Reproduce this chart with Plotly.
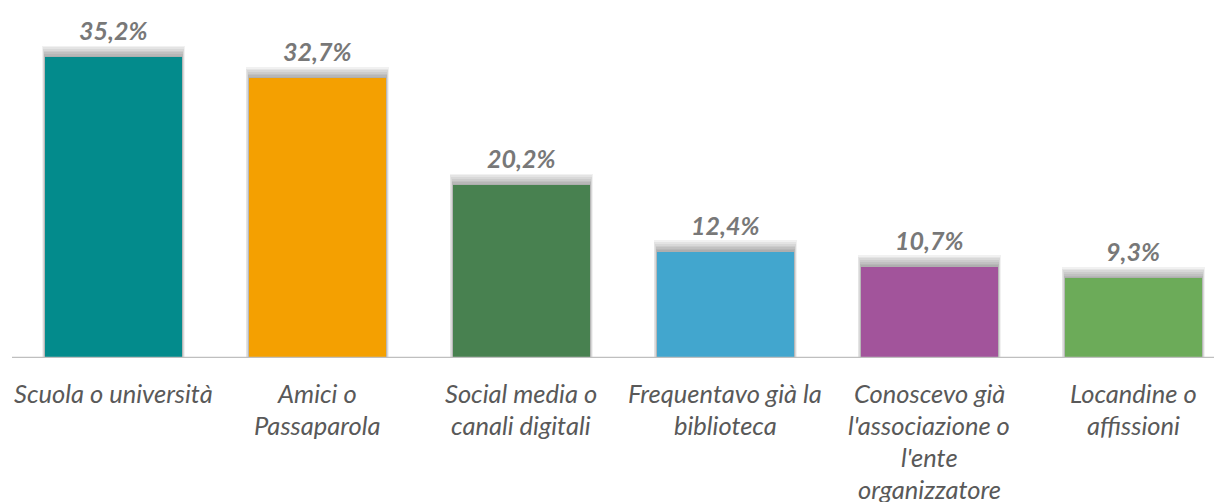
import plotly.graph_objects as go

categories = ["Scuola o università", "Amici o Passaparola", "Social media o canali digitali",
              "Frequentavo già la biblioteca", "Conoscevo già l'associazione o l'ente organizzatore",
              "Locandine o affissioni"]
tick_lines = [["Scuola o università"],
              ["Amici o", "Passaparola"],
              ["Social media o", "canali digitali"],
              ["Frequentavo già la", "biblioteca"],
              ["Conoscevo già", "l'associazione o", "l'ente", "organizzatore"],
              ["Locandine o", "affissioni"]]
values = [35.2, 32.7, 20.2, 12.4, 10.7, 9.3]
value_labels = ["35,2%", "32,7%", "20,2%", "12,4%", "10,7%", "9,3%"]
colors = ["#038B8C", "#F4A001", "#488150", "#42A6CE", "#A2549B", "#6CAB59"]

FONT = "Lato"
x = list(range(len(categories)))
BW = 0.672

fig = go.Figure()

# soft shadow above bars (layered translucent grey)
layers = [(1.35, 0.030), (1.15, 0.024), (0.95, 0.018), (0.75, 0.013), (0.55, 0.009), (0.35, 0.006), (0.18, 0.003)]
for dy, dw in layers:
    fig.add_trace(go.Bar(
        x=x, y=[v + dy for v in values], width=BW + dw,
        marker=dict(color="rgba(70,70,70,0.075)", line=dict(width=0)),
        hoverinfo="skip", showlegend=False))

fig.add_trace(go.Bar(
    x=x, y=values, width=BW,
    marker=dict(color=colors, line=dict(width=0)),
    showlegend=False, hovertext=categories))

for i, (v, t) in enumerate(zip(values, value_labels)):
    fig.add_annotation(x=i, y=v, xref="x", yref="y", text=f"<b><i>{t}</i></b>",
                       showarrow=False, yanchor="middle", yshift=27,
                       font=dict(family=FONT, size=25, color="#787878"))

for i, lines in enumerate(tick_lines):
    for j, line in enumerate(lines):
        fig.add_annotation(x=i, y=0, xref="x", yref="y", text=f"<i>{line}</i>",
                           showarrow=False, yanchor="middle", yshift=-(35 + 32 * j),
                           font=dict(family=FONT, size=25.5, color="#595959"))

fig.update_layout(
    width=1214, height=494,
    margin=dict(l=4, r=0, t=0, b=144),
    paper_bgcolor="white", plot_bgcolor="white",
    barmode="overlay", bargap=0,
    xaxis=dict(range=[-0.4975, 5.434], showticklabels=False, showgrid=False,
               zeroline=False, showline=False, ticks=""),
    yaxis=dict(range=[0, 40.94], showticklabels=False, showgrid=False,
               zeroline=False, showline=False, ticks=""),
)
fig.add_shape(type="line", xref="paper", yref="y", x0=0, x1=1, y0=0, y1=0,
              line=dict(color="#BFBFBF", width=2.5), layer="above")

fig.write_html("out.html")
